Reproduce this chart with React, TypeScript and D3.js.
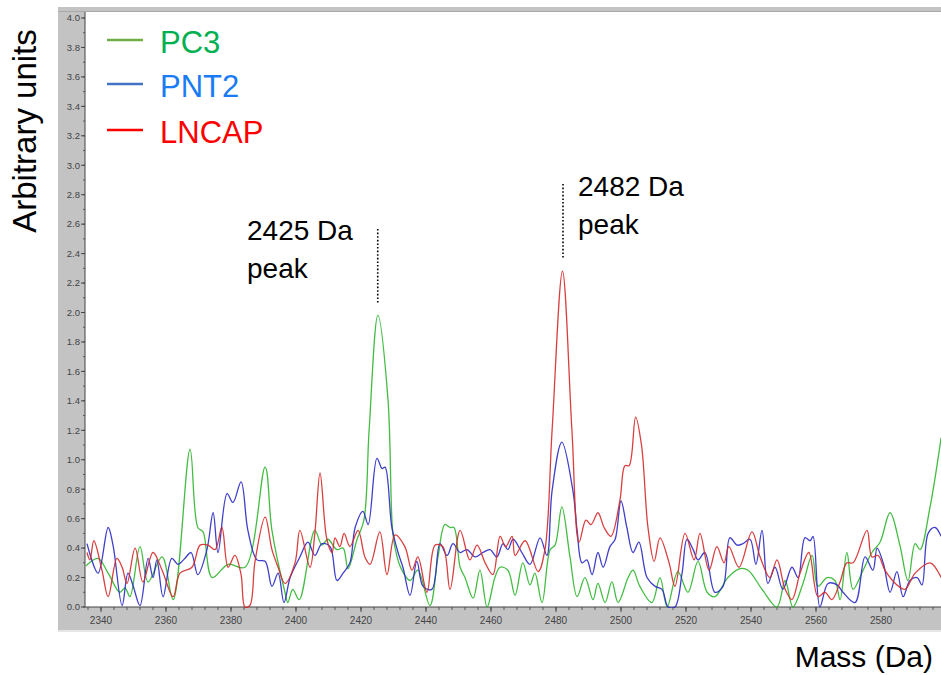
import React from 'react';
import * as d3 from 'd3';

// [mass (Da), arbitrary units], mostly at local extrema
const pc3Points: [number, number][] = [
  [2335.4, 0.28], [2339.1, 0.33], [2342.2, 0.23], [2345.8, 0.10], [2347.4, 0.13], [2348.9, 0.07],
  [2352.0, 0.41], [2354.5, 0.17], [2358.8, 0.34], [2362.2, 0.05], [2367.4, 1.07], [2369.8, 0.54],
  [2371.4, 0.51], [2374.2, 0.20], [2379.1, 0.29], [2384.3, 0.27], [2390.5, 0.95], [2392.6, 0.52],
  [2396.6, 0.10], [2397.5, 0.03], [2399.0, 0.12], [2401.0, 0.05], [2405.8, 0.52], [2408.0, 0.42],
  [2409.8, 0.46], [2412.6, 0.39], [2414.5, 0.40], [2416.0, 0.26], [2418.8, 0.46], [2420.9, 0.59],
  [2422.5, 1.20], [2425.2, 1.98], [2428.3, 1.41], [2429.8, 0.50], [2431.1, 0.34], [2432.6, 0.25],
  [2435.1, 0.18], [2437.5, 0.25], [2441.2, 0.01], [2443.7, 0.34], [2445.8, 0.56], [2447.4, 0.54],
  [2448.6, 0.54], [2450.5, 0.27], [2452.0, 0.20], [2454.5, 0.06], [2456.6, 0.25], [2458.8, 0.00],
  [2461.2, 0.20], [2462.8, 0.27], [2465.2, 0.25], [2467.4, 0.08], [2469.8, 0.30], [2472.0, 0.15],
  [2473.5, 0.23], [2475.7, 0.03], [2478.2, 0.39], [2479.7, 0.42], [2481.8, 0.68], [2484.3, 0.34],
  [2486.5, 0.07], [2488.9, 0.20], [2491.4, 0.05], [2492.9, 0.16], [2495.1, 0.03], [2497.2, 0.17],
  [2499.1, 0.03], [2502.2, 0.20], [2503.7, 0.25], [2505.8, 0.14], [2509.5, 0.03], [2512.0, 0.20],
  [2514.2, 0.00], [2517.5, 0.24], [2520.6, 0.10], [2523.7, 0.31], [2526.5, 0.10], [2528.9, 0.07],
  [2532.9, 0.20], [2536.6, 0.26], [2539.1, 0.25], [2543.4, 0.12], [2548.0, 0.00], [2550.5, 0.18],
  [2552.9, 0.00], [2556.0, 0.16], [2558.8, 0.35], [2560.6, 0.14], [2563.4, 0.20], [2565.8, 0.18],
  [2567.4, 0.05], [2569.5, 0.37], [2571.4, 0.12], [2574.5, 0.25], [2577.2, 0.37], [2579.7, 0.44],
  [2582.8, 0.64], [2585.8, 0.42], [2588.3, 0.18], [2590.5, 0.43], [2592.0, 0.39], [2595.1, 0.68],
  [2598.5, 1.15],
];

const pnt2Points: [number, number][] = [
  [2335.7, 0.43], [2339.1, 0.23], [2342.2, 0.54], [2343.7, 0.42], [2346.5, 0.01], [2348.3, 0.23],
  [2349.8, 0.15], [2352.0, 0.01], [2354.5, 0.33], [2356.0, 0.20], [2357.2, 0.32], [2359.1, 0.07],
  [2361.8, 0.33], [2363.7, 0.29], [2365.8, 0.33], [2367.7, 0.37], [2369.8, 0.22], [2372.6, 0.39],
  [2374.5, 0.64], [2376.0, 0.37], [2378.8, 0.77], [2380.6, 0.71], [2383.1, 0.85], [2385.2, 0.52],
  [2388.0, 0.32], [2390.5, 0.31], [2392.6, 0.14], [2394.5, 0.23], [2396.3, 0.03], [2398.2, 0.20],
  [2401.2, 0.34], [2403.7, 0.44], [2405.8, 0.35], [2408.0, 0.43], [2410.5, 0.41], [2412.6, 0.18],
  [2414.5, 0.23], [2416.6, 0.30], [2418.2, 0.54], [2420.6, 0.65], [2422.2, 0.56], [2424.9, 1.01],
  [2426.5, 0.94], [2427.4, 0.95], [2429.5, 0.54], [2431.4, 0.37], [2432.9, 0.27], [2435.1, 0.08],
  [2437.2, 0.31], [2439.1, 0.14], [2441.8, 0.12], [2444.3, 0.43], [2446.5, 0.35], [2448.3, 0.43],
  [2450.5, 0.37], [2452.6, 0.39], [2455.1, 0.34], [2457.5, 0.37], [2459.7, 0.39], [2461.8, 0.34],
  [2463.7, 0.43], [2465.2, 0.39], [2466.8, 0.46], [2469.5, 0.37], [2472.0, 0.29], [2475.1, 0.47],
  [2477.2, 0.35], [2478.8, 0.79], [2481.8, 1.12], [2485.2, 0.79], [2486.5, 0.52], [2488.0, 0.30],
  [2489.5, 0.32], [2491.1, 0.22], [2492.9, 0.37], [2494.5, 0.27], [2496.6, 0.41], [2498.2, 0.46],
  [2500.0, 0.72], [2501.8, 0.54], [2503.7, 0.37], [2505.5, 0.44], [2508.0, 0.20], [2510.5, 0.14],
  [2512.6, 0.12], [2514.5, 0.00], [2516.6, 0.00], [2518.8, 0.23], [2520.3, 0.46], [2522.2, 0.39],
  [2523.7, 0.32], [2525.8, 0.37], [2528.9, 0.10], [2531.4, 0.14], [2533.5, 0.47], [2535.7, 0.42],
  [2537.5, 0.43], [2539.7, 0.46], [2541.5, 0.29], [2543.4, 0.52], [2545.2, 0.16], [2547.4, 0.27],
  [2549.8, 0.12], [2552.6, 0.27], [2554.5, 0.20], [2556.6, 0.47], [2558.2, 0.45], [2559.1, 0.48],
  [2561.2, 0.00], [2563.7, 0.16], [2566.5, 0.15], [2568.3, 0.10], [2572.0, 0.03], [2575.1, 0.34],
  [2577.5, 0.25], [2578.8, 0.40], [2580.8, 0.29], [2582.8, 0.10], [2584.9, 0.24], [2586.8, 0.07],
  [2588.9, 0.18], [2591.1, 0.20], [2592.6, 0.15], [2594.5, 0.50], [2596.6, 0.54], [2598.5, 0.48],
];

const lncapPoints: [number, number][] = [
  [2335.7, 0.37], [2336.6, 0.32], [2337.8, 0.45], [2340.3, 0.25], [2342.2, 0.07], [2344.9, 0.33],
  [2346.5, 0.27], [2348.0, 0.16], [2350.5, 0.40], [2352.9, 0.17], [2356.0, 0.37], [2358.8, 0.25],
  [2362.2, 0.07], [2364.3, 0.23], [2368.0, 0.27], [2370.5, 0.42], [2372.9, 0.42], [2375.1, 0.39],
  [2377.2, 0.54], [2379.1, 0.27], [2381.2, 0.35], [2383.1, 0.22], [2384.3, 0.00], [2385.8, 0.01],
  [2387.4, 0.31], [2390.5, 0.61], [2392.6, 0.39], [2394.5, 0.27], [2396.6, 0.16], [2399.7, 0.30],
  [2401.2, 0.52], [2404.3, 0.27], [2405.8, 0.50], [2407.4, 0.91], [2409.5, 0.46], [2411.1, 0.37],
  [2412.0, 0.47], [2413.5, 0.41], [2414.8, 0.50], [2416.6, 0.41], [2419.1, 0.52], [2421.2, 0.34],
  [2422.8, 0.29], [2425.8, 0.51], [2428.0, 0.22], [2430.5, 0.49], [2433.5, 0.41], [2435.7, 0.25],
  [2437.5, 0.34], [2440.3, 0.10], [2442.8, 0.42], [2445.2, 0.41], [2447.4, 0.12], [2450.5, 0.52],
  [2453.5, 0.32], [2455.7, 0.42], [2458.2, 0.30], [2460.6, 0.22], [2462.8, 0.48], [2464.5, 0.41],
  [2466.5, 0.48], [2467.4, 0.35], [2470.5, 0.45], [2474.5, 0.24], [2476.6, 0.39], [2478.8, 1.20],
  [2482.0, 2.28], [2484.9, 1.20], [2487.1, 0.44], [2489.2, 0.59], [2490.8, 0.56], [2492.9, 0.64],
  [2494.8, 0.54], [2496.9, 0.48], [2499.7, 0.73], [2501.2, 0.96], [2502.5, 0.96], [2504.5, 1.29],
  [2506.3, 1.10], [2508.3, 0.54], [2510.2, 0.31], [2512.0, 0.47], [2514.8, 0.30], [2516.6, 0.14],
  [2519.7, 0.50], [2522.5, 0.32], [2524.3, 0.50], [2527.1, 0.25], [2529.5, 0.41], [2531.7, 0.30],
  [2533.2, 0.41], [2536.3, 0.27], [2540.3, 0.51], [2542.8, 0.34], [2545.8, 0.20], [2548.0, 0.32],
  [2550.5, 0.12], [2552.6, 0.05], [2555.1, 0.23], [2557.8, 0.37], [2560.6, 0.07], [2562.8, 0.10],
  [2564.9, 0.05], [2567.4, 0.17], [2569.5, 0.30], [2571.4, 0.30], [2575.7, 0.52], [2577.2, 0.34],
  [2579.1, 0.35], [2581.2, 0.25], [2584.9, 0.15], [2587.4, 0.12], [2590.5, 0.23], [2595.1, 0.30],
  [2598.5, 0.20],
];

const seriesNames = ['PC3', 'PNT2', 'LNCAP'];
const lineColors = ['#2fb52f', '#2a2ac4', '#d42a2a'];
const legendLineColors = ['#70ad47', '#4472c4', '#ff0000'];
const legendTextColors = ['#00b050', '#1a7cf5', '#ff0000'];

const yTicks = d3.range(0, 4.01, 0.2);
const yMinorTicks = d3.range(0, 4.01, 0.1);
const xTicks = d3.range(2340, 2600, 20);
const xMinorTicks = d3.range(2336, 2600, 4);

const peakNotes = [
  { mass: 2425, lines: ['2425 Da', 'peak'] },
  { mass: 2482, lines: ['2482 Da', 'peak'] },
];

const W = 941;
const H = 675;
const left = 85;
const right = 941;
const top = 12;
const bottom = 607;
const font = '"Liberation Sans", Arial, sans-serif';

export default function App() {
  const x = d3.scaleLinear().domain([2335.08, 2598.46]).range([left, right]);
  const y = d3.scaleLinear().domain([0, 4]).range([bottom, 18]);

  // centripetal catmull-rom: smooth like the instrument trace, little overshoot
  const line = d3
    .line<[number, number]>()
    .x(d => x(d[0]))
    .y(d => y(d[1]))
    .curve(d3.curveCatmullRom.alpha(0.5));

  const series = [pc3Points, pnt2Points, lncapPoints];

  // text positions for the two peak notes
  const notePos = [
    { tx: 247, ty: 240, dotTop: 229, dotBottom: 303 },
    { tx: 578, ty: 196, dotTop: 184, dotBottom: 258 },
  ];

  return (
    <svg width={W} height={H} style={{ position: 'absolute', left: 0, top: 0, background: '#fff' }} fontFamily={font}>
      <defs>
        <clipPath id="plot">
          <rect x={left} y={top} width={right - left} height={bottom - top + 1} />
        </clipPath>
      </defs>

      {/* grey instrument frame */}
      <rect x={58} y={7} width={W - 58} height={623} fill="#c3c3c3" />
      <rect x={58} y={630} width={W - 58} height={2} fill="#e6e6e6" />
      <rect x={58} y={11} width={W - 58} height={1} fill="#a8a8a8" />
      <rect x={left} y={top} width={right - left} height={bottom - top} fill="#fff" />

      {/* y axis */}
      <line x1={left} x2={left} y1={top} y2={bottom} stroke="#444" />
      {yMinorTicks.map(t => (
        <line key={'ym' + t} x1={left - 2} x2={left} y1={y(t)} y2={y(t)} stroke="#555" />
      ))}
      {yTicks.map(t => (
        <g key={'y' + t}>
          <line x1={left - 4} x2={left} y1={y(t)} y2={y(t)} stroke="#444" />
          <text x={left - 5} y={y(t) + 3.3} fontSize={9.5} textAnchor="end" fill="#444">
            {t.toFixed(1)}
          </text>
        </g>
      ))}

      {/* x axis */}
      <line x1={left} x2={right} y1={bottom} y2={bottom} stroke="#444" />
      {xMinorTicks.map(t => (
        <line key={'xm' + t} x1={x(t)} x2={x(t)} y1={bottom} y2={bottom + 3} stroke="#555" />
      ))}
      {xTicks.map(t => (
        <g key={'x' + t}>
          <line x1={x(t)} x2={x(t)} y1={bottom} y2={bottom + 5} stroke="#444" />
          <text x={x(t)} y={bottom + 17} fontSize={10} textAnchor="middle" fill="#444">
            {t}
          </text>
        </g>
      ))}

      {/* spectra */}
      <g clipPath="url(#plot)" fill="none" strokeWidth={1.3} strokeLinejoin="round">
        {series.map((s, i) => (
          <path key={seriesNames[i]} d={line(s) || ''} stroke={lineColors[i]} strokeOpacity={0.9} />
        ))}
      </g>

      {/* legend */}
      {seriesNames.map((name, i) => {
        const ly = [40, 84, 130][i];
        return (
          <g key={'lg' + name}>
            <line x1={107} x2={143} y1={ly} y2={ly} stroke={legendLineColors[i]} strokeWidth={2.5} />
            <text x={160} y={ly + 13} fontSize={31} fill={legendTextColors[i]}>
              {name}
            </text>
          </g>
        );
      })}

      {/* peak notes */}
      {peakNotes.map((p, i) => {
        const pos = notePos[i];
        return (
          <g key={'note' + p.mass}>
            <line
              x1={x(p.mass) + 0.5}
              x2={x(p.mass) + 0.5}
              y1={pos.dotTop}
              y2={pos.dotBottom}
              stroke="#000"
              strokeWidth={1.6}
              strokeDasharray="1.6,2"
            />
            {p.lines.map((t, j) => (
              <text key={t} x={pos.tx} y={pos.ty + j * 38} fontSize={28} fill="#000">
                {t}
              </text>
            ))}
          </g>
        );
      })}

      {/* axis titles */}
      <text transform="translate(36,131) rotate(-90)" fontSize={33} textAnchor="middle" fill="#000">
        Arbitrary units
      </text>
      <text x={933} y={667} fontSize={30} textAnchor="end" fill="#000">
        Mass (Da)
      </text>
    </svg>
  );
}
